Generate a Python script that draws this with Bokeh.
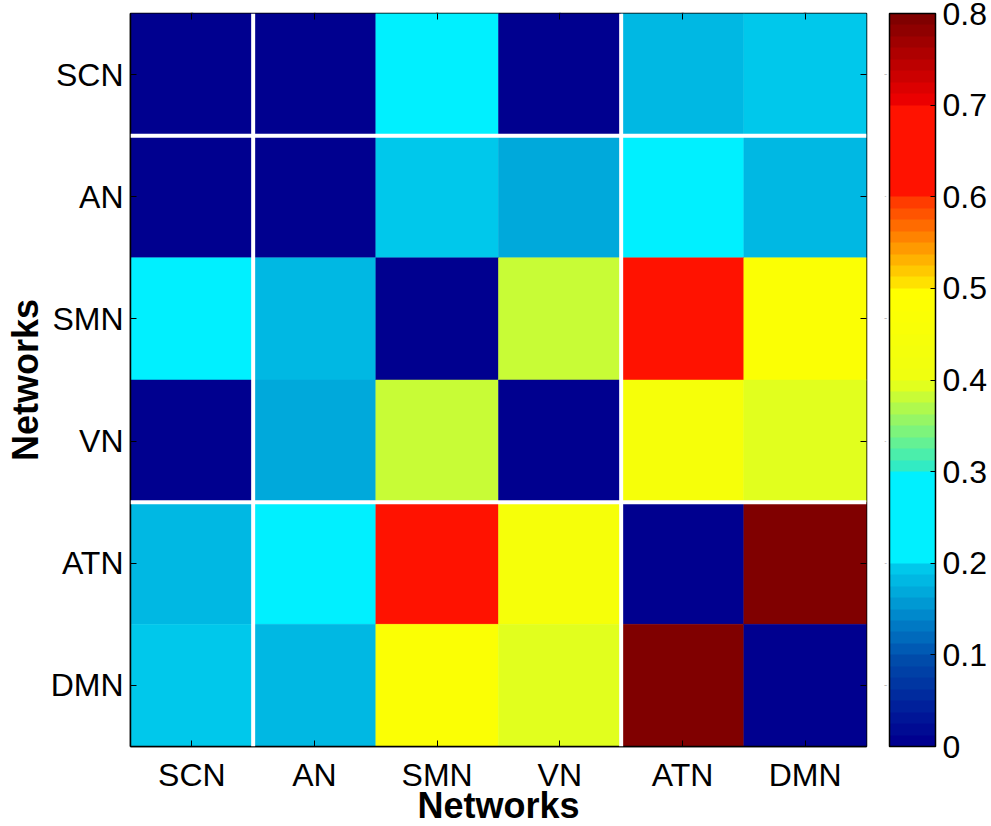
from bokeh.plotting import figure
from bokeh.models import (LinearColorMapper, ColorBar, FixedTicker, Span,
                          CategoricalAxis, CustomJSTickFormatter, ColumnDataSource)
from bokeh.transform import transform
from bokeh.embed import file_html
from bokeh.resources import INLINE

# Network labels and the block structure used for the separators
networks = ["SCN", "AN", "SMN", "VN", "ATN", "DMN"]
group_sizes = [1, 3, 2]

# Connectivity matrix, row by row
row_scn = [0.00, 0.00, 0.25, 0.00, 0.18, 0.19]
row_an = [0.00, 0.00, 0.19, 0.165, 0.25, 0.18]
row_smn = [0.25, 0.18, 0.00, 0.38, 0.65, 0.47]
row_vn = [0.00, 0.165, 0.38, 0.00, 0.44, 0.39]
row_atn = [0.18, 0.25, 0.65, 0.44, 0.00, 0.80]
row_dmn = [0.19, 0.18, 0.47, 0.39, 0.80, 0.00]
rows = [row_scn, row_an, row_smn, row_vn, row_atn, row_dmn]

cbar_ticks = [0, 0.1, 0.2, 0.3, 0.4, 0.5, 0.6, 0.7, 0.8]
vmin, vmax = 0.0, 0.8

FONT = "Liberation Sans"

# 64-step jet-like palette, built from eight 8-step segments
segments = [
    ((0, 0, 143), (0, 75, 170)),
    ((0, 90, 180), (0, 200, 235)),
    ((0, 240, 255), (0, 240, 255)),
    ((50, 235, 195), (225, 255, 30)),
    ((240, 255, 15), (255, 255, 0)),
    ((255, 225, 0), (255, 60, 0)),
    ((255, 18, 0), (255, 18, 0)),
    ((235, 0, 0), (128, 0, 0)),
]
palette = []
for c0, c1 in segments:
    for i in range(8):
        t = i / 7
        r, g, b = (round(a + (b_ - a) * t) for a, b_ in zip(c0, c1))
        palette.append("#%02x%02x%02x" % (r, g, b))

xs, ys, vals = [], [], []
for rname, row in zip(networks, rows):
    for cname, v in zip(networks, row):
        xs.append(cname)
        ys.append(rname)
        vals.append(v)
source = ColumnDataSource(dict(x=xs, y=ys, value=vals))

mapper = LinearColorMapper(palette=palette, low=vmin, high=vmax)

p = figure(x_range=networks, y_range=list(reversed(networks)),
           frame_width=736, frame_height=733,
           min_border_left=130, min_border_top=13, min_border_bottom=80,
           min_border_right=125,
           output_backend="svg", toolbar_location=None, tools="")

p.rect(x="x", y="y", width=1, height=1, source=source,
       fill_color=transform("value", mapper),
       line_color=transform("value", mapper), line_width=0.5)

# White separators between network blocks
bounds = []
acc = 0
for s in group_sizes[:-1]:
    acc += s
    bounds.append(acc)
n = len(networks)
for b in bounds:
    p.add_layout(Span(location=b, dimension="height", line_color="white", line_width=4))
    p.add_layout(Span(location=n - b, dimension="width", line_color="white", line_width=4))

p.grid.visible = False
p.outline_line_color = "black"
p.outline_line_width = 1.5
p.background_fill_color = "white"

for ax in (p.xaxis[0], p.yaxis[0]):
    ax.axis_label = "Networks"
    ax.axis_label_text_font = FONT
    ax.axis_label_text_font_size = "36px"
    ax.axis_label_text_font_style = "bold"
    ax.axis_label_text_color = "black"
    ax.major_label_text_font = FONT
    ax.major_label_text_font_size = "32px"
    ax.major_label_text_color = "black"
    ax.major_tick_in = 6
    ax.major_tick_out = 0
    ax.major_tick_line_color = "black"
    ax.axis_line_color = "black"
    ax.axis_line_width = 1.5

p.xaxis[0].major_label_standoff = 10
p.xaxis[0].axis_label_standoff = -11
p.yaxis[0].major_label_standoff = 7
p.yaxis[0].axis_label_standoff = 2

# Tick marks on the top and right edges of the box (no labels there)
blank = {f: "" for f in networks}
top_axis = CategoricalAxis(major_label_overrides=blank, major_label_text_font_size="1px",
                           major_tick_in=6, major_tick_out=0, major_label_standoff=0,
                           major_tick_line_color="black", axis_line_color=None)
p.add_layout(top_axis, "above")
right_axis = CategoricalAxis(major_label_overrides=blank, major_label_text_font_size="1px",
                             major_tick_in=6, major_tick_out=0, major_label_standoff=18,
                             major_tick_line_color="black", axis_line_color=None)
p.add_layout(right_axis, "right")

cbar = ColorBar(color_mapper=mapper, ticker=FixedTicker(ticks=cbar_ticks),
                formatter=CustomJSTickFormatter(code="return tick === 0 ? '0' : tick.toFixed(1);"),
                width=46, height=733, margin=0, padding=0,
                major_label_text_font=FONT, major_label_text_font_size="32px",
                major_label_text_color="black", label_standoff=7,
                major_tick_in=5, major_tick_out=0, major_tick_line_color="black",
                bar_line_color="black", bar_line_width=1.5,
                border_line_color=None, background_fill_color=None)
p.add_layout(cbar, "right")

open("out.html", "w").write(file_html(p, INLINE))
